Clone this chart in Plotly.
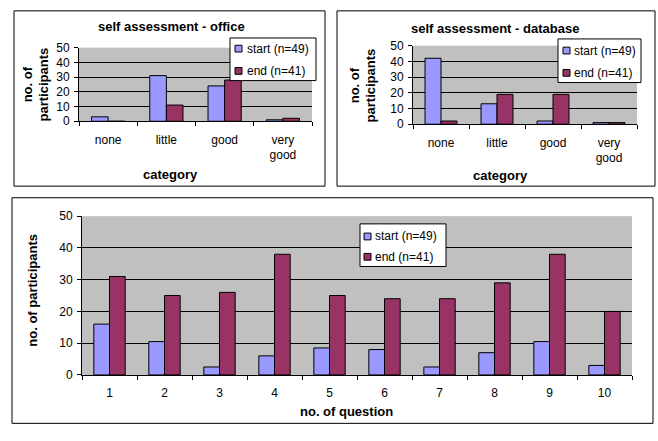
import plotly.graph_objects as go

W, H = 658, 441

# ---- data ----
levels = ["none", "little", "good", "very<br>good"]
office_start = [3, 31, 24, 1]
office_end = [0, 11, 28, 2]
db_start = [42, 13, 2, 1]
db_end = [2, 19, 19, 1]
questions = ["1", "2", "3", "4", "5", "6", "7", "8", "9", "10"]
q_start = [16, 10.5, 2.5, 6, 8.5, 8, 2.5, 7, 10.5, 3]
q_end = [31, 25, 26, 38, 25, 24, 24, 29, 38, 20]
name_start = "start (n=49)"
name_end = "end (n=41)"

C_START = "#9999FF"
C_END = "#993366"
FONT = "Liberation Sans, Arial, sans-serif"

def px(x): return x / W
def py(y): return 1 - y / H

fig = go.Figure()

def add_pair(xcat, s, e, xa, ya):
    fig.add_trace(go.Bar(x=xcat, y=s, name=name_start, marker=dict(color=C_START, line=dict(color="black", width=1)),
                         xaxis=xa, yaxis=ya, showlegend=False))
    fig.add_trace(go.Bar(x=xcat, y=e, name=name_end, marker=dict(color=C_END, line=dict(color="black", width=1)),
                         xaxis=xa, yaxis=ya, showlegend=False))

add_pair(levels, office_start, office_end, "x", "y")
add_pair(levels, db_start, db_end, "x2", "y2")
add_pair(questions, q_start, q_end, "x3", "y3")

tickfont = dict(family=FONT, size=12, color="black")

def xax(dom, anchor):
    return dict(domain=dom, anchor=anchor, type="category", showline=True, linecolor="black", linewidth=1,
                ticks="outside", tickson="boundaries", ticklen=4, tickcolor="black", ticklabelstandoff=7,
                showgrid=False, tickfont=tickfont, fixedrange=True)

def yax(dom, anchor):
    return dict(domain=dom, anchor=anchor, range=[0, 50], dtick=10, showline=True, linecolor="black", linewidth=1,
                ticks="outside", ticklen=4, tickcolor="black", showgrid=True, gridcolor="black", gridwidth=1,
                zeroline=False, tickfont=tickfont, fixedrange=True, ticklabelstandoff=2)

fig.update_layout(
    width=W, height=H, margin=dict(l=0, r=0, t=0, b=0),
    paper_bgcolor="white", plot_bgcolor="#C0C0C0",
    barmode="group", bargap=0.43, bargroupgap=0,
    font=dict(family=FONT, size=12, color="black"),
    showlegend=False,
    xaxis=xax([px(79), px(312)], "y"),
    yaxis=yax([py(118), py(42)], "x"),
    xaxis2=xax([px(413), px(637)], "y2"),
    yaxis2=yax([py(121), py(40)], "x2"),
    xaxis3=xax([px(82), px(632)], "y3"),
    yaxis3=yax([py(380), py(216)], "x3"),
)

# panel borders
for x0, y0, x1, y1 in [(14, 4, 325, 185), (337, 4, 655, 185), (12, 197, 653, 430)]:
    fig.add_shape(type="rect", xref="paper", yref="paper", x0=px(x0), x1=px(x1), y0=py(y0), y1=py(y1),
                  line=dict(color="black", width=1), fillcolor="rgba(0,0,0,0)", layer="below")

# legend boxes (drawn like the original chart legends)
def legend_box(x0, y0, x1, y1, sq_x, text_x, yc):
    fig.add_shape(type="rect", xref="paper", yref="paper", x0=px(x0), x1=px(x1), y0=py(y0), y1=py(y1),
                  line=dict(color="black", width=1), fillcolor="white", layer="above")
    for (name, col), yy in zip([(name_start, C_START), (name_end, C_END)], yc):
        fig.add_shape(type="rect", xref="paper", yref="paper", x0=px(sq_x), x1=px(sq_x + 7),
                      y0=py(yy + 3.5), y1=py(yy - 3.5), line=dict(color="black", width=1),
                      fillcolor=col, layer="above")
        fig.add_annotation(text=name, x=px(text_x), y=py(yy), xref="paper", yref="paper", showarrow=False,
                           xanchor="left", yanchor="middle", font=dict(family=FONT, size=12, color="black"))

legend_box(230, 32, 316, 76, 235, 245, [43, 66])
legend_box(558, 33, 641, 78, 563, 572, [45, 68])
legend_box(360, 224, 446, 268, 364, 373, [237, 258])

bold = dict(family=FONT, size=13, color="black")
def ann(text, x, y, angle=0):
    fig.add_annotation(text="<b>%s</b>" % text, x=px(x), y=py(y), xref="paper", yref="paper",
                       showarrow=False, textangle=angle, font=bold, xanchor="center", yanchor="middle")

ann("self assessment - office", 171, 20)
ann("self assessment - database", 495, 22)
ann("category", 170, 173)
ann("category", 500, 174)
ann("no. of question", 346, 418)
ann("no. of<br>participants", 36, 80, -90)
ann("no. of<br>participants", 363, 81, -90)
ann("no. of participants", 33, 293, -90)

fig.write_html("out.html", config={"displayModeBar": False},
               post_script="document.body.style.margin='0';document.body.style.overflow='hidden';")
